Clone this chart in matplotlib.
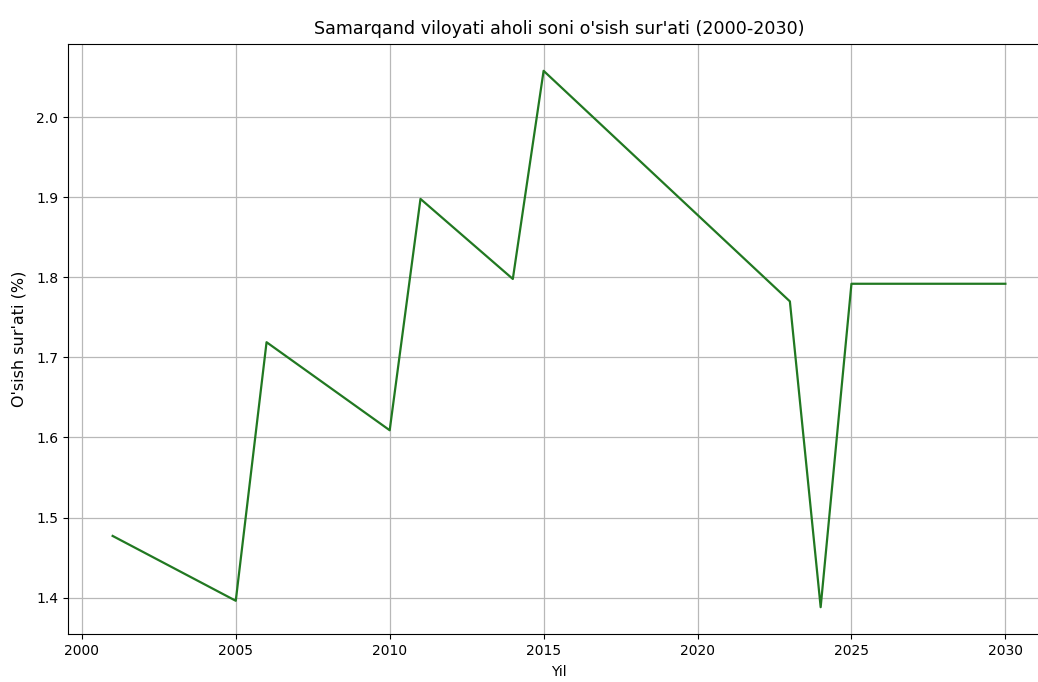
import matplotlib
matplotlib.use("Agg")
import matplotlib.pyplot as plt

years = [2001, 2005, 2006, 2010, 2011, 2014, 2015, 2023, 2024, 2025, 2030]
growth = [1.477, 1.396, 1.719, 1.609, 1.898, 1.798, 2.058, 1.770, 1.388, 1.792, 1.792]

W, H = 1038, 682
fig = plt.figure(figsize=(W / 100, H / 100), dpi=100)
left, right, top, bottom = 68, 1050, 44, 634
ax = fig.add_axes([left / W, (H - bottom) / H, (right - left) / W, (bottom - top) / H])

ax.plot(years, growth, color="#217821", linewidth=1.6)
ax.set_title("Samarqand viloyati aholi soni o'sish sur'ati (2000-2030)", fontsize=12.6, pad=7)
ax.set_xlabel("Yil", fontsize=10, labelpad=5)
ax.set_ylabel("O'sish sur'ati (%)", fontsize=11.5, labelpad=7)
ax.grid(True, color="#b8b8b8", linewidth=0.9)
ax.tick_params(labelsize=10)

fig.savefig("out.png", dpi=100)
